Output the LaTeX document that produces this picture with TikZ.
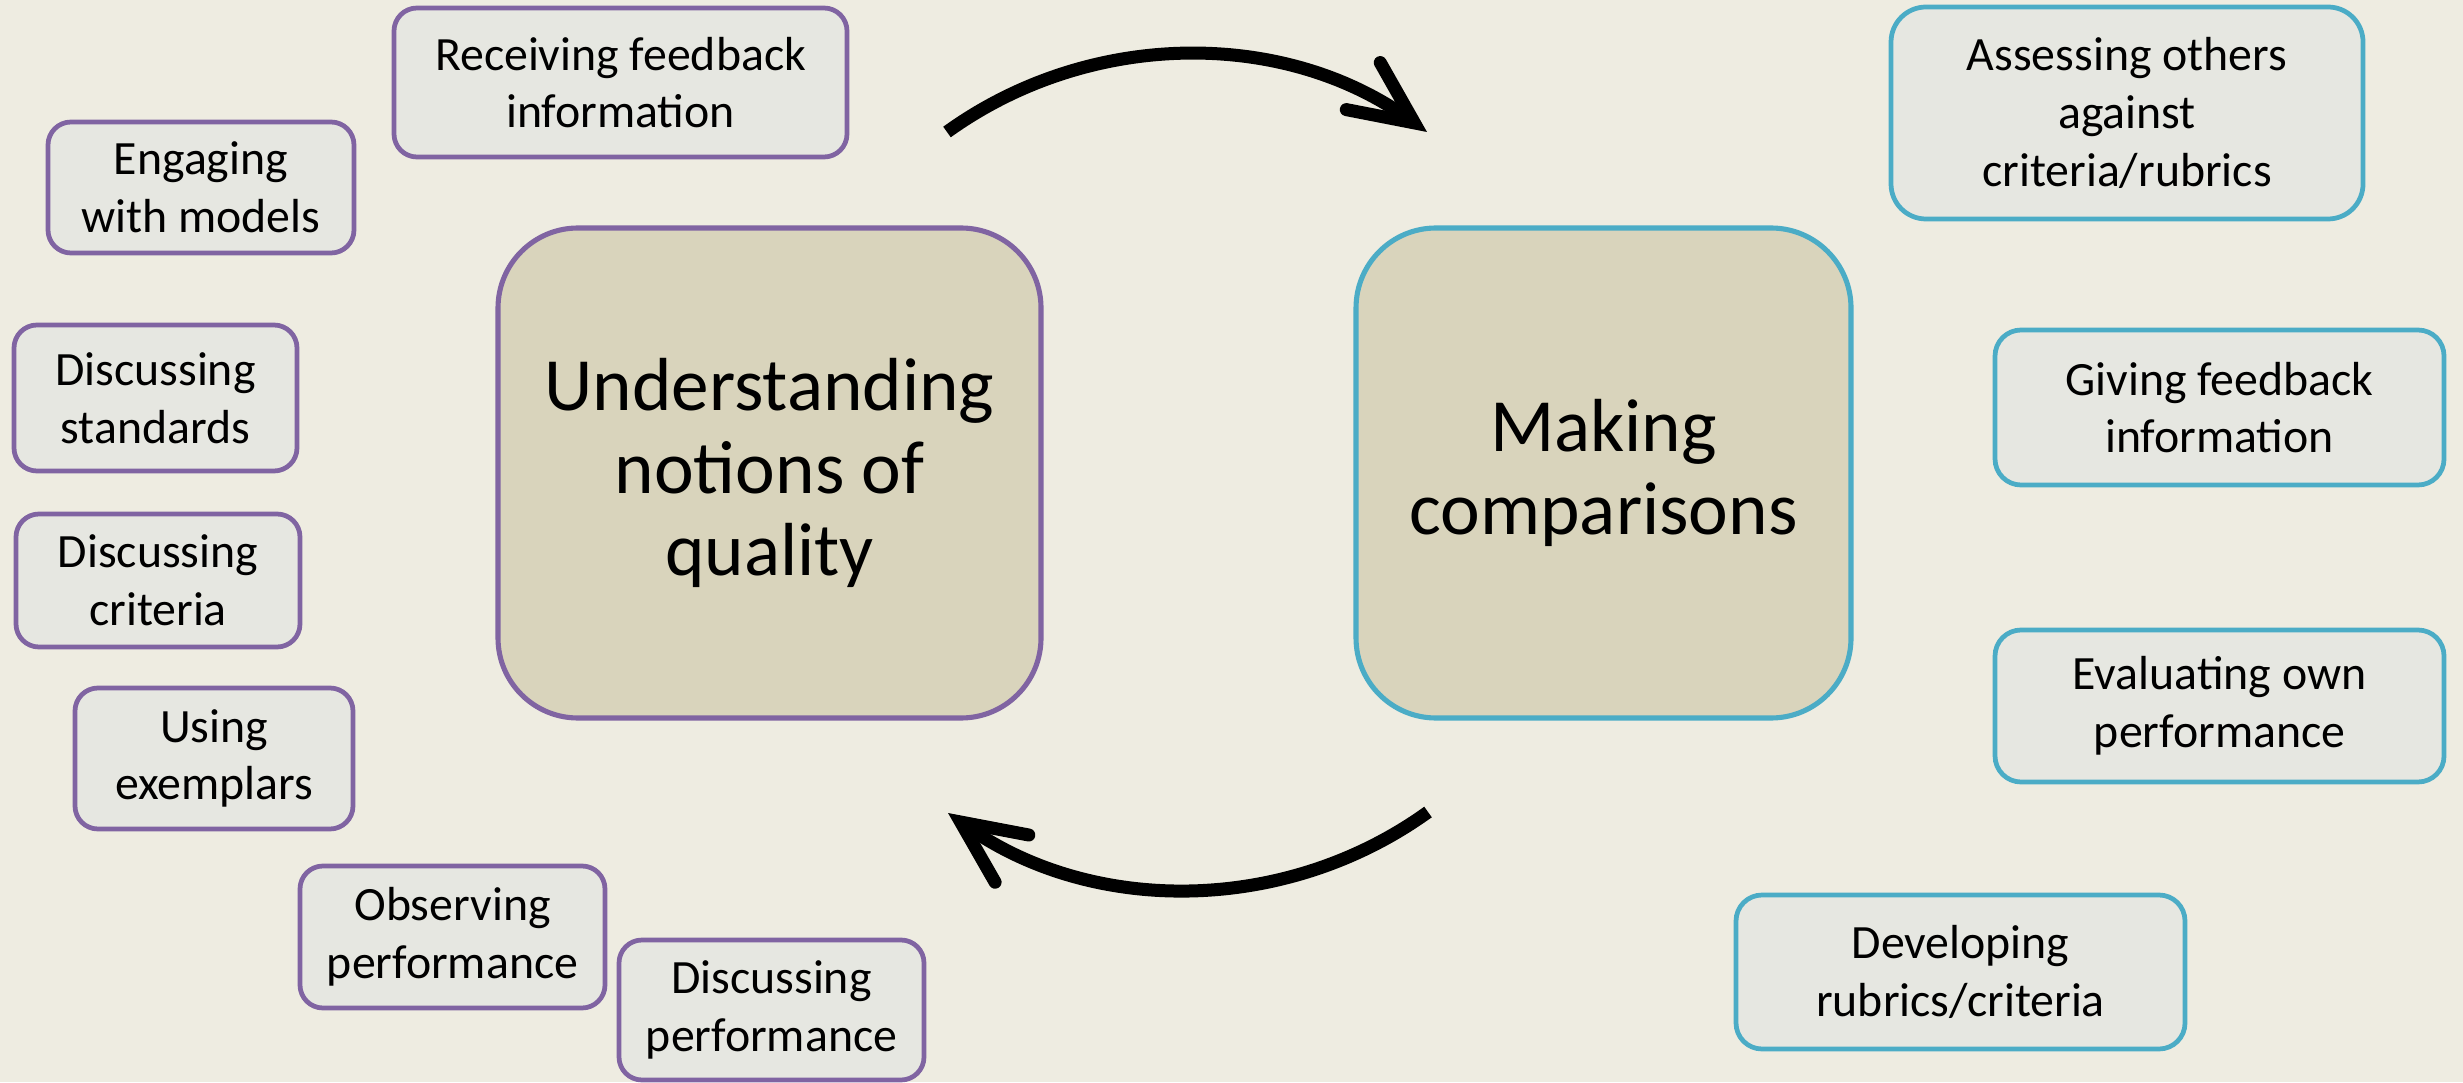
\documentclass[tikz,border=0pt]{standalone}
\usepackage{fontspec}
\setmainfont{Carlito}
\usetikzlibrary{arrows.meta}
\definecolor{bgtan}{HTML}{EEECE1}
\definecolor{bigfill}{HTML}{D9D4BC}
\definecolor{smallfill}{HTML}{E6E7E1}
\definecolor{qualpurple}{HTML}{8064A2}
\definecolor{compblue}{HTML}{4BACC6}
\begin{document}
\begin{tikzpicture}[
  smallbox/.style = {draw, fill = smallfill, line width = 1.35pt, rounded corners = 2.3mm, inner sep = 0pt, align = center, font = \fontsize{13.6}{16.4}\selectfont},
  purplebox/.style = {smallbox, draw = qualpurple},
  bluebox/.style = {smallbox, draw = compblue},
  bigbox/.style = {draw, fill = bigfill, line width = 1.45pt, rounded corners = 8mm, inner sep = 0pt, align = center, font = \fontsize{21.4}{23.4}\selectfont},
  cyclearrow/.style = {line width = 3.7pt, -{Straight Barb[length = 6.3mm, width = 5.8mm, line cap = round, line join = miter]}}
]
\useasboundingbox (0,0) rectangle (24.63,10.82);
\fill[bgtan] (0,0) rectangle (24.63,10.82);
% the two main boxes
\node[bigbox, draw = qualpurple, minimum width = 5.43cm, minimum height = 4.90cm] (quality) at (7.695,6.09) {Understanding\\notions of\\quality};
\node[bigbox, draw = compblue, minimum width = 4.95cm, minimum height = 4.90cm] (comparing) at (16.035,6.09) {Making\\comparisons};
% left side
\node[purplebox, minimum width = 4.53cm, minimum height = 1.49cm] (receiving) at (6.205,9.995) {Receiving feedback\\information};
\node[purplebox, minimum width = 3.06cm, minimum height = 1.31cm] (models) at (2.01,8.945) {Engaging\\with models};
\node[purplebox, minimum width = 2.83cm, minimum height = 1.46cm] (standards) at (1.555,6.84) {Discussing\\standards};
\node[purplebox, minimum width = 2.84cm, minimum height = 1.33cm] (criteria) at (1.58,5.015) {Discussing\\criteria};
\node[purplebox, minimum width = 2.78cm, minimum height = 1.41cm] (exemplars) at (2.14,3.235) {Using\\exemplars};
\node[purplebox, minimum width = 3.05cm, minimum height = 1.42cm] (observing) at (4.525,1.45) {Observing\\performance};
\node[purplebox, minimum width = 3.05cm, minimum height = 1.40cm] (discperf) at (7.715,0.72) {Discussing\\performance};
% right side
\node[bluebox, rounded corners = 3.5mm, minimum width = 4.72cm, minimum height = 2.12cm] (assessing) at (21.27,9.69) {Assessing others\\against\\criteria/rubrics};
\node[bluebox, rounded corners = 2.6mm, minimum width = 4.49cm, minimum height = 1.55cm] (giving) at (22.195,6.745) {Giving feedback\\information};
\node[bluebox, rounded corners = 2.6mm, minimum width = 4.49cm, minimum height = 1.52cm] (evaluating) at (22.195,3.76) {Evaluating own\\performance};
\node[bluebox, rounded corners = 2.6mm, minimum width = 4.49cm, minimum height = 1.54cm] (developing) at (19.605,1.10) {Developing\\rubrics/criteria};
% cycle arrows
\coordinate (topstart) at (9.47,9.50);
\coordinate (toptip) at (14.27,9.50);
\coordinate (botstart) at (14.28,2.70);
\coordinate (bottip) at (9.48,2.69);
\draw[cyclearrow] (topstart) .. controls (10.90,10.53) and (12.84,10.53) .. (toptip);
\draw[cyclearrow] (botstart) .. controls (12.85,1.67) and (10.91,1.67) .. (bottip);
\end{tikzpicture}
\end{document}
